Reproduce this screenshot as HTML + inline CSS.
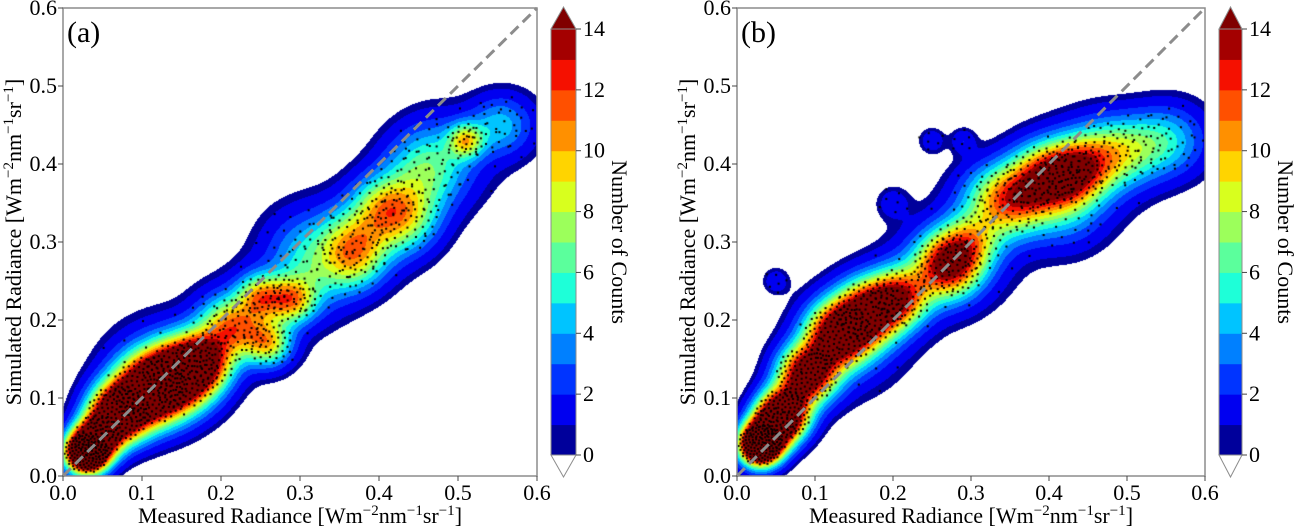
<!DOCTYPE html>
<html><head><meta charset="utf-8">
<style>
body{margin:0;background:#fff;width:1296px;height:531px;overflow:hidden;position:relative;font-family:"Liberation Serif",serif;}
canvas{position:absolute;}
svg{position:absolute;left:0;top:0;font-family:"Liberation Serif",serif;}
</style></head>
<body>
<canvas id="ca" style="left:63px;top:8px" width="474" height="468"></canvas>
<canvas id="cb" style="left:737px;top:8px" width="468" height="468"></canvas>
<svg id="ov" width="1296" height="531" font-family="Liberation Serif, serif"></svg>
<script>
// ---- data (Radiance values) ----
const ticksXY = [0.0,0.1,0.2,0.3,0.4,0.5,0.6];
const cbTicks = [0,2,4,6,8,10,12,14];
// panel a density blobs: centre x, centre y, spread, peak count
const blobXa = [0.03,0.07,0.11,0.15,0.18,0.22,0.25,0.29,0.26,0.32,0.37,0.37,0.43,0.40,0.45,0.51,0.47,0.55,0.30,0.20,0.12,0.25,0.38,0.50,0.57,0.045];
const blobYa = [0.03,0.08,0.11,0.13,0.15,0.19,0.23,0.225,0.17,0.26,0.30,0.27,0.33,0.35,0.38,0.43,0.41,0.45,0.30,0.20,0.14,0.21,0.31,0.41,0.45,0.05];
const blobRa = [0.018,0.025,0.03,0.03,0.025,0.025,0.02,0.02,0.02,0.035,0.03,0.025,0.03,0.025,0.035,0.015,0.035,0.025,0.035,0.025,0.05,0.05,0.05,0.045,0.03,0.02];
const blobAa = [25,18,18,16,10,7,8,8,8,4,7,3,7,4,4,7,3,3,2,3,1.5,1.2,1.2,1.0,1.5,12];
// panel b density blobs
const blobXb = [0.03,0.06,0.09,0.13,0.17,0.21,0.27,0.30,0.35,0.39,0.43,0.47,0.51,0.55,0.32,0.42,0.25,0.29,0.05,0.20,0.15,0.30,0.45,0.57,0.23,0.045];
const blobYb = [0.04,0.08,0.13,0.18,0.21,0.23,0.27,0.30,0.35,0.38,0.39,0.41,0.42,0.43,0.36,0.34,0.43,0.43,0.25,0.35,0.17,0.29,0.39,0.43,0.25,0.06];
const blobRb = [0.018,0.022,0.025,0.028,0.028,0.025,0.028,0.025,0.03,0.03,0.028,0.03,0.03,0.03,0.03,0.035,0.011,0.011,0.011,0.014,0.05,0.05,0.05,0.035,0.045,0.02];
const blobAb = [25,18,16,16,14,10,13,6,8,10,10,6,4,3,3,3,1.8,1.8,1.8,1.6,1.5,1.5,1.5,1.5,1.2,10];

const colors = ["#00009b","#0000f0","#0034ff","#0080ff","#00c4ff","#1effd8","#5bff9c","#9cff5b","#d8ff1e","#ffd400","#ff9000","#ff5000","#f51000","#a40000"];
const overColor = "#800000";

function hex(c){return [parseInt(c.substr(1,2),16),parseInt(c.substr(3,2),16),parseInt(c.substr(5,2),16)];}
const rgb = colors.map(hex), overRgb = hex(overColor);

function density(bx,by,br,ba,x,y){
  let d=0;
  for(let i=0;i<bx.length;i++){
    const dx=x-bx[i], dy=y-by[i];
    d+=ba[i]*Math.exp(-(dx*dx+dy*dy)/(2*br[i]*br[i]));
  }
  return d;
}
function drawPanel(id,W,H,bx,by,br,ba){
  const cv=document.getElementById(id), ctx=cv.getContext('2d');
  const img=ctx.createImageData(W,H);
  const sx=v=>v/0.6*W, sy=v=>H-v/0.6*H;
  for(let py=0;py<H;py++){for(let px=0;px<W;px++){
    const x=(px+0.5)/W*0.6, y=(H-py-0.5)/H*0.6;
    const d=density(bx,by,br,ba,x,y);
    const k=(py*W+px)*4;
    if(d<0.6){img.data[k+3]=0;continue;}
    const c = d>=14?overRgb:rgb[Math.floor(d)];
    img.data[k]=c[0];img.data[k+1]=c[1];img.data[k+2]=c[2];img.data[k+3]=255;
  }}
  ctx.putImageData(img,0,0);
  ctx.fillStyle="#000";
  for(let i=0;i<bx.length;i++){
    const n=Math.round(ba[i]*br[i]*300);
    for(let j=0;j<n;j++){
      const r=br[i]*1.6*Math.sqrt((j+0.5)/n), a=j*2.39996+i;
      const x=bx[i]+r*Math.cos(a), y=by[i]+r*Math.sin(a)*0.9;
      ctx.fillRect(sx(x)-1,sy(y)-1,2,2);
    }
  }
}
drawPanel('ca',474,468,blobXa,blobYa,blobRa,blobAa);
drawPanel('cb',468,468,blobXb,blobYb,blobRb,blobAb);

// ---- axes overlay ----
const NS="http://www.w3.org/2000/svg", ov=document.getElementById('ov');
function el(tag,attrs,text){const e=document.createElementNS(NS,tag);for(const k in attrs)e.setAttribute(k,attrs[k]);if(text!==undefined)e.textContent=text;ov.appendChild(e);return e;}
const panels=[{L:63,R:537,T:8,B:476,lab:"(a)",cbL:551,cbR:576,key:"a"},{L:737,R:1205,T:8,B:476,lab:"(b)",cbL:1219,cbR:1242,key:"b"}];
const sup='<tspan dy="-8" font-size="15">';
const unit='[Wm'+sup+'−2</tspan><tspan dy="8">nm</tspan>'+sup+'−1</tspan><tspan dy="8">sr</tspan>'+sup+'−1</tspan><tspan dy="8">]</tspan>';
panels.forEach(p=>{
  const xs=v=>p.L+v/0.6*(p.R-p.L), ys=v=>p.B-v/0.6*(p.B-p.T);
  const dl=el('line',{x1:xs(0),y1:ys(0),x2:xs(0.6),y2:ys(0.6),stroke:"#8c8c8c","stroke-width":3,"stroke-dasharray":"11,6"});
  
  
  const fr=el('rect',{x:p.L,y:p.T,width:p.R-p.L,height:p.B-p.T,fill:"none",stroke:"#8c8c8c","stroke-width":1.5});
  
  
  ticksXY.forEach(t=>{
    el('line',{x1:xs(t),y1:p.B,x2:xs(t),y2:p.B+5,stroke:"#444"});
    const tx=el('text',{x:xs(t),y:p.B+24,"font-size":22,"text-anchor":"middle"},t.toFixed(1));
    
    
    el('line',{x1:p.L-5,y1:ys(t),x2:p.L,y2:ys(t),stroke:"#444"});
    const ty=el('text',{x:p.L-6,y:ys(t)+7,"font-size":22,"text-anchor":"end"},t.toFixed(1));
    
    
  });
  const pl=el('text',{x:p.L+4,y:p.T+34,"font-size":30},p.lab);
  
  
  const xl=el('text',{x:(p.L+p.R)/2,y:523,"font-size":22,"text-anchor":"middle"});
  xl.innerHTML='Measured Radiance '+unit;
  
  
  const yl=el('text',{x:0,y:0,"font-size":22,"text-anchor":"middle",transform:`translate(${p.L-42},${(p.T+p.B)/2}) rotate(-90)`});
  yl.innerHTML='Simulated Radiance '+unit;
  
  
  const cT=29,cB=455,cs=v=>cB-v/14*(cB-cT);
  colors.forEach((c,i)=>{
    const r=el('rect',{x:p.cbL,y:cs(i+1),width:p.cbR-p.cbL,height:cs(i)-cs(i+1)+0.5,fill:c});
    
    
  });
  const m=(p.cbL+p.cbR)/2;
  const up=el('polygon',{points:`${p.cbL},${cT} ${p.cbR},${cT} ${m},7`,fill:overColor,stroke:"#8c8c8c"});
  
  
  const dn=el('polygon',{points:`${p.cbL},${cB} ${p.cbR},${cB} ${m},477`,fill:"#fff",stroke:"#8c8c8c"});
  
  
  el('rect',{x:p.cbL,y:cT,width:p.cbR-p.cbL,height:cB-cT,fill:"none",stroke:"#8c8c8c"});
  cbTicks.forEach(t=>{
    el('line',{x1:p.cbR,y1:cs(t),x2:p.cbR+5,y2:cs(t),stroke:"#444"});
    const ct=el('text',{x:p.cbR+7,y:cs(t)+7,"font-size":22},String(t));
    
    
  });
  const ctl=el('text',{x:0,y:0,"font-size":22,"text-anchor":"middle",transform:`translate(${p.cbR+36},242) rotate(90)`},'Number of Counts');
  
  
});
</script>
</body></html>
